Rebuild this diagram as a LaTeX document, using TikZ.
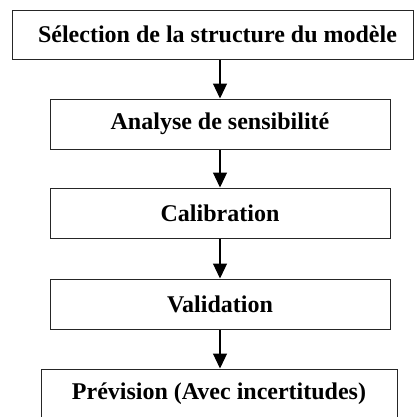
\documentclass[tikz,border=0pt]{standalone}
\usepackage{fontspec}
\setmainfont{Liberation Serif}
\usetikzlibrary{arrows.meta}
\begin{document}
\begin{tikzpicture}[x=1pt,y=-1pt,
  box/.style={draw=black!85, line width=1pt, minimum height=49pt, inner sep=0pt,
    font=\bfseries\fontsize{24}{28}\selectfont},
  flow/.style={line width=1.2pt, -{Triangle[width=14pt,length=15pt]}}]
\useasboundingbox (0,0) rectangle (417,416);
\clip (0,0) rectangle (417,416);
\node[box, minimum width=401pt] (b1) at (212.5,34.5) {\hspace*{10pt}Sélection de la structure du modèle};
\node[box, minimum width=340pt, minimum height=50pt] (b2) at (220,124) {Analyse de sensibilité};
\node[box, minimum width=340pt, minimum height=50pt] (b3) at (220,213) {Calibration};
\node[box, minimum width=340pt, minimum height=50pt] (b4) at (220,304) {Validation};
\node[box, minimum width=356pt, minimum height=50pt] (b5) at (219,394) {Prévision (Avec incertitudes)};
\draw[flow] (b1.south -| b2) -- (b2.north);
\draw[flow] (b2) -- (b3);
\draw[flow] (b3) -- (b4);
\draw[flow] (b4.south) -- (b5.north -| b4);
\end{tikzpicture}
\end{document}
